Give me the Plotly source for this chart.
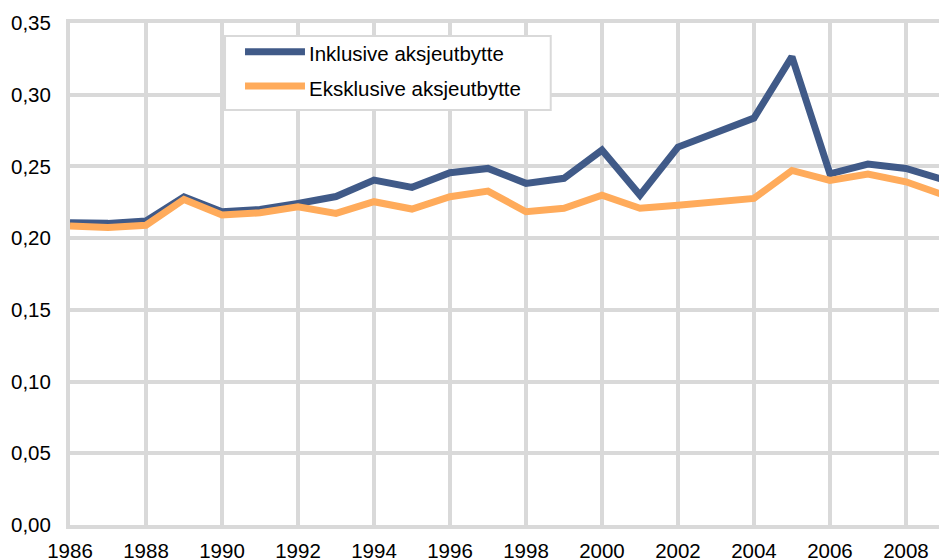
import plotly.graph_objects as go

# data
years = list(range(1986, 2010))
inklusive = [0.2107, 0.2103, 0.2120, 0.2288, 0.2184, 0.2200, 0.2242, 0.2290,
             0.2405, 0.2354, 0.2456, 0.2486, 0.2382, 0.2417, 0.2614, 0.2300,
             0.2635, 0.2740, 0.2837, 0.3265, 0.2448, 0.2516, 0.2486, 0.2406]
eksklusive = [0.2084, 0.2075, 0.2090, 0.2270, 0.2161, 0.2177, 0.2219, 0.2173,
              0.2254, 0.2203, 0.2289, 0.2328, 0.2184, 0.2208, 0.2300, 0.2208,
              0.2230, 0.2250, 0.2277, 0.2472, 0.2402, 0.2447, 0.2393, 0.2300]
names = ['Inklusive aksjeutbytte', 'Eksklusive aksjeutbytte']
x_ticks = list(range(1986, 2010, 2))
y_ticks = [0.00, 0.05, 0.10, 0.15, 0.20, 0.25, 0.30, 0.35]

blue = '#405A88'
orange = '#FFAB5B'
grid = '#D9D9D9'
font = dict(family='Liberation Sans, Arial, sans-serif', size=20.5, color='#000000')

fig = go.Figure()
fig.add_trace(go.Scatter(x=years, y=inklusive, mode='lines', name=names[0],
                         line=dict(color=blue, width=7), showlegend=False))
fig.add_trace(go.Scatter(x=years, y=eksklusive, mode='lines', name=names[1],
                         line=dict(color=orange, width=7), showlegend=False))

# legend drawn by hand so the line glyphs get the long look of the original
fig.add_shape(type='rect', xref='paper', yref='paper', x0=0.1784, x1=0.5532, y0=0.8267, y1=0.9741,
              fillcolor='white', line=dict(color=grid, width=2), layer='above')
for col, yy in [(blue, 0.9428), (orange, 0.8745)]:
    fig.add_shape(type='line', xref='paper', yref='paper', x0=0.2014, x1=0.2704, y0=yy, y1=yy,
                  line=dict(color=col, width=7), layer='above')
for nm, yy in [(names[0], 0.9402), (names[1], 0.8700)]:
    fig.add_annotation(text=nm, xref='paper', yref='paper', x=0.2727, y=yy, xanchor='left',
                       yanchor='middle', showarrow=False, font=font)

fig.update_layout(
    width=939, height=559,
    margin=dict(l=70, r=0, t=23, b=34),
    plot_bgcolor='white', paper_bgcolor='white',
    separators=', ',
    font=font,
)
fig.update_xaxes(range=[1986, 2008.87], tickvals=x_ticks, showgrid=True, gridcolor=grid, gridwidth=4,
                 showline=True, linecolor=grid, linewidth=4, mirror=True, zeroline=False,
                 ticks='', ticklabelstandoff=4, automargin=False)
fig.update_yaxes(range=[0, 0.35], tickvals=y_ticks, tickformat='.2f', showgrid=True, gridcolor=grid,
                 gridwidth=4, showline=True, linecolor=grid, linewidth=4, zeroline=False,
                 ticks='', ticklabelstandoff=11, automargin=False)

# the page's default body margin would shift the figure by 8px
fig.write_html('out.html', config={'displayModeBar': False},
               post_script="document.body.style.margin='0';")
